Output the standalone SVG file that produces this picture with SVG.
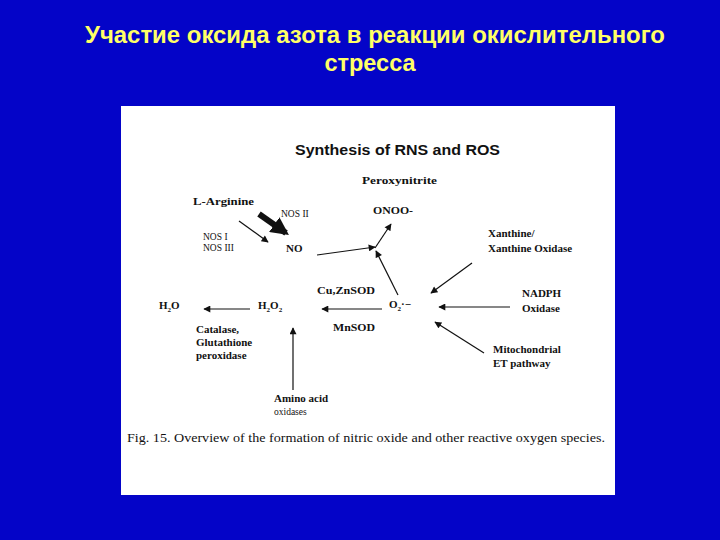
<svg xmlns="http://www.w3.org/2000/svg" width="720" height="540" viewBox="0 0 720 540">
<style>
.title{font-family:"Liberation Sans",Arial,sans-serif;font-weight:bold;font-size:23.5px;fill:#FFFF66;text-anchor:middle}
.hd{font-family:"Liberation Sans",Arial,sans-serif;font-weight:bold;font-size:14.5px;fill:#111}
.b{font-family:"Liberation Serif","Times New Roman",serif;font-weight:bold;font-size:11px;fill:#111}
.s{font-family:"Liberation Serif","Times New Roman",serif;font-size:9.5px;fill:#111}
.cap{font-family:"Liberation Serif","Times New Roman",serif;font-size:13px;fill:#111}
.ln{stroke:#111;stroke-width:1.2;fill:none;marker-end:url(#ah)}
</style>
<defs>
<marker id="ah" viewBox="0 0 10 10" refX="9" refY="5" markerWidth="8" markerHeight="7" markerUnits="userSpaceOnUse" orient="auto">
<path d="M0,0 L10,5 L0,10 z" fill="#111"/>
</marker>
<marker id="ahb" viewBox="0 0 10 10" refX="8" refY="5" markerWidth="3" markerHeight="3" orient="auto">
<path d="M0,0 L10,5 L0,10 z" fill="#111"/>
</marker>
</defs>
<rect width="720" height="540" fill="#0404C8"/>
<text class="title" x="375" y="43" textLength="580" lengthAdjust="spacingAndGlyphs">Участие оксида азота в реакции окислительного</text>
<text class="title" x="370" y="71">стресса</text>
<rect x="121" y="106" width="494" height="389" fill="#FFFFFF"/>
<text class="hd" x="295" y="155" textLength="205" lengthAdjust="spacingAndGlyphs">Synthesis of RNS and ROS</text>
<text class="cap" x="127" y="442" textLength="478" lengthAdjust="spacingAndGlyphs">Fig. 15. Overview of the formation of nitric oxide and other reactive oxygen species.</text>
<g id="peroxynitrite"><text class="b" x="362" y="184" textLength="75" lengthAdjust="spacingAndGlyphs">Peroxynitrite</text></g>
<g id="onoo"><text class="b" x="373" y="214" textLength="40" lengthAdjust="spacingAndGlyphs">ONOO-</text></g>
<g id="larginine"><text class="b" x="193" y="205" textLength="61" lengthAdjust="spacingAndGlyphs">L-Arginine</text></g>
<g id="nos2"><text class="s" x="281" y="217">NOS II</text></g>
<g id="nos13"><text class="s" x="203" y="240">NOS I</text><text class="s" x="203" y="251">NOS III</text></g>
<g id="no"><text class="b" x="286" y="252">NO</text></g>
<g id="h2o"><text class="b" x="159" y="309">H<tspan font-size="7" dy="3">2</tspan><tspan dy="-3">O</tspan></text></g>
<g id="h2o2"><text class="b" x="258" y="309">H<tspan font-size="7" dy="3">2</tspan><tspan dy="-3">O</tspan><tspan font-size="7" dy="3">2</tspan></text></g>
<g id="catalase"><text class="b" x="196" y="333">Catalase,</text><text class="b" x="196" y="346">Glutathione</text><text class="b" x="196" y="359">peroxidase</text></g>
<g id="cuznsod"><text class="b" x="317" y="294" textLength="58" lengthAdjust="spacingAndGlyphs">Cu,ZnSOD</text></g>
<g id="mnsod"><text class="b" x="333" y="331" textLength="42" lengthAdjust="spacingAndGlyphs">MnSOD</text></g>
<g id="o2"><text class="b" x="389" y="308">O<tspan font-size="7" dy="3">2</tspan><tspan dy="-3">·−</tspan></text></g>
<g id="amino"><text class="b" x="274" y="402">Amino acid</text><text class="s" x="274" y="415">oxidases</text></g>
<g id="xanthine"><text class="b" x="488" y="237">Xanthine/</text><text class="b" x="488" y="252">Xanthine Oxidase</text></g>
<g id="nadph"><text class="b" x="522" y="297">NADPH</text><text class="b" x="522" y="312">Oxidase</text></g>
<g id="mito"><text class="b" x="493" y="353">Mitochondrial</text><text class="b" x="493" y="367">ET pathway</text></g>
<g id="connectors">
<line class="ln" x1="239" y1="221" x2="268" y2="242"/>
<line x1="259" y1="214" x2="286" y2="233" stroke="#111" stroke-width="6" marker-end="url(#ahb)"/>
<line class="ln" x1="317" y1="255" x2="375" y2="247"/>
<line class="ln" x1="375" y1="248" x2="391" y2="224"/>
<line class="ln" x1="398" y1="295" x2="376" y2="251"/>
<line class="ln" x1="382" y1="309" x2="322" y2="309"/>
<line class="ln" x1="250" y1="309" x2="204" y2="309"/>
<line class="ln" x1="293" y1="390" x2="293" y2="328"/>
<line class="ln" x1="472" y1="263" x2="431" y2="293"/>
<line class="ln" x1="510" y1="307" x2="439" y2="307"/>
<line class="ln" x1="484" y1="353" x2="435" y2="322"/>
</g>
</svg>
